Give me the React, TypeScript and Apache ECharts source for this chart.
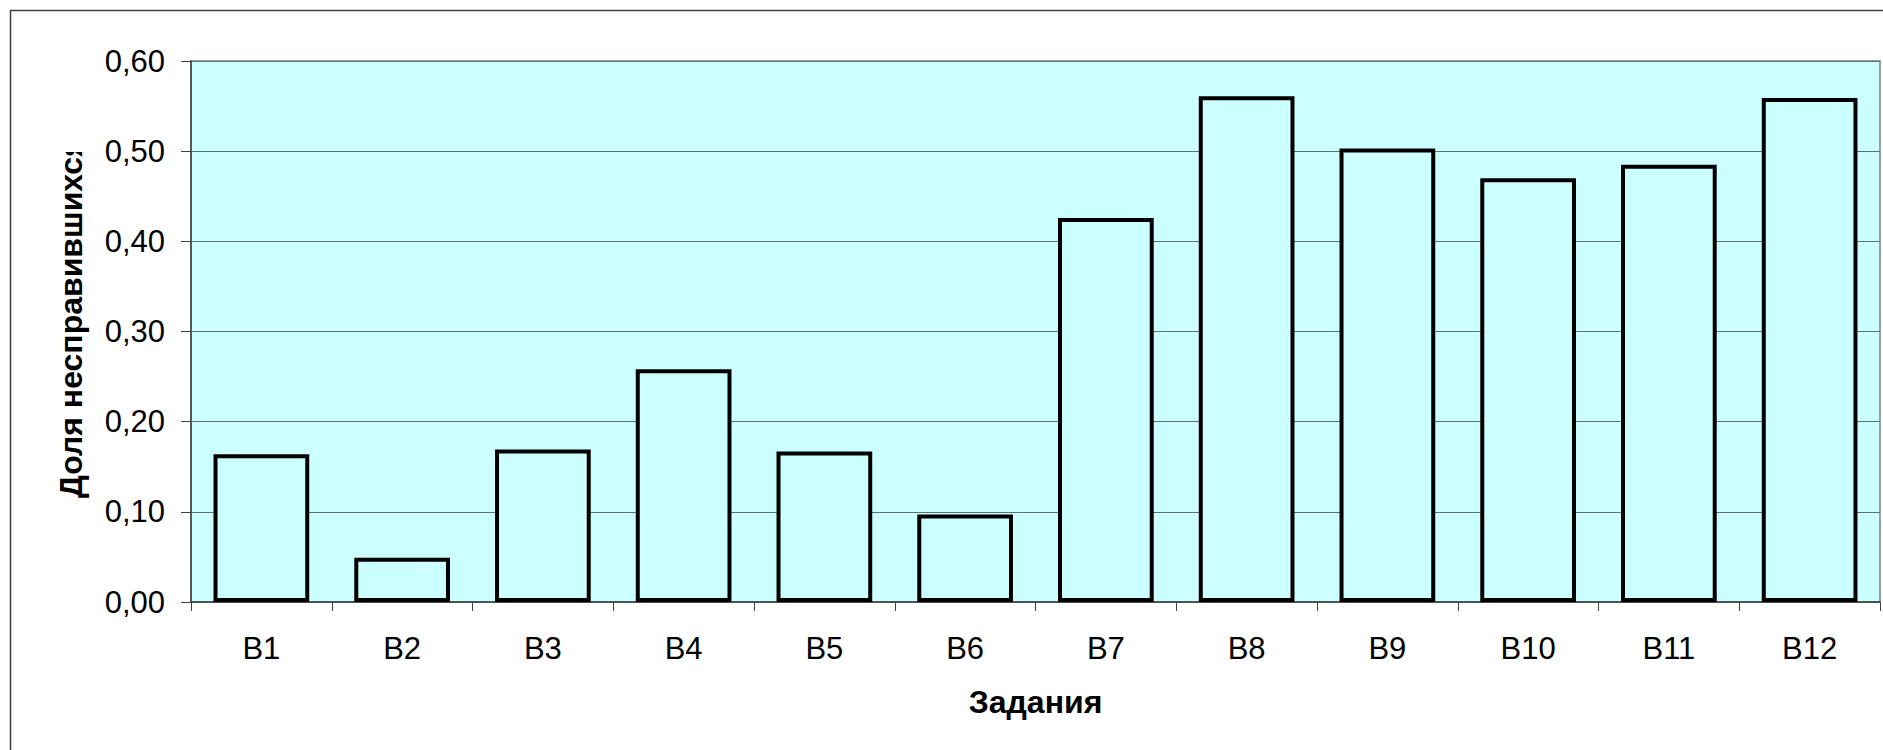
import React, { useEffect, useRef } from "react";
import * as echarts from "echarts";

const categories = ["B1", "B2", "B3", "B4", "B5", "B6", "B7", "B8", "B9", "B10", "B11", "B12"];
const shares = [0.164, 0.049, 0.169, 0.258, 0.167, 0.097, 0.426, 0.561, 0.503, 0.47, 0.485, 0.559];
const yTitle = "Доля несправившихся";
const xTitle = "Задания";

const FONT = "'Liberation Sans', Arial, sans-serif";

export default function App() {
  const ref = useRef<HTMLDivElement>(null);
  useEffect(() => {
    if (!ref.current) return;
    const chart = echarts.init(ref.current, undefined, { renderer: "svg" });
    chart.setOption({
      animation: false,
      backgroundColor: "#ffffff",
      grid: {
        left: 191,
        top: 61,
        right: 3,
        bottom: 148,
        show: true,
        backgroundColor: "#CCFFFF",
        borderColor: "#808080",
        borderWidth: 1.5,
      },
      xAxis: {
        type: "category",
        data: categories,
        boundaryGap: true,
        axisLine: { show: true, lineStyle: { color: "#404040", width: 1.5 } },
        axisTick: { show: true, length: 9, lineStyle: { color: "#404040", width: 1 } },
        axisLabel: { color: "#000", fontSize: 31, fontFamily: FONT, margin: 31 },
        name: xTitle,
        nameLocation: "middle",
        nameGap: 84,
        nameTextStyle: { color: "#000", fontSize: 32, fontWeight: "bold", fontFamily: FONT },
      },
      yAxis: {
        type: "value",
        min: 0,
        max: 0.6,
        interval: 0.1,
        axisLine: { show: true, lineStyle: { color: "#404040", width: 1.5 } },
        axisTick: { show: true, length: 10, lineStyle: { color: "#404040", width: 1 } },
        splitLine: { show: true, lineStyle: { color: "#5f7070", width: 1.2 } },
        axisLabel: {
          color: "#000",
          fontSize: 31,
          fontFamily: FONT,
          margin: 26,
          formatter: (v: number) => v.toFixed(2).replace(".", ","),
        },
      },
      series: [
        {
          type: "bar",
          data: shares,
          barWidth: "68%",
          itemStyle: { color: "#CCFFFF", borderColor: "#000000", borderWidth: 4 },
        },
      ],
      graphic: [
        {
          type: "text",
          x: 71,
          y: 498,
          rotation: Math.PI / 2,
          z: 10,
          style: {
            text: yTitle,
            fill: "#000",
            font: `bold 32px ${FONT}`,
            textAlign: "left",
            textVerticalAlign: "middle",
          },
        },
        {
          type: "rect",
          z: 20,
          shape: { x: 40, y: 12, width: 58, height: 140 },
          style: { fill: "#ffffff" },
        },
        {
          type: "rect",
          z: 30,
          shape: { x: 10.5, y: 10.5, width: 1900, height: 800 },
          style: { fill: "none", stroke: "#404040", lineWidth: 1.5 },
        },
      ],
    });
    return () => chart.dispose();
  }, []);
  return (
    <div
      ref={ref}
      style={{ position: "fixed", left: 0, top: 0, width: 1883, height: 750 }}
    />
  );
}
